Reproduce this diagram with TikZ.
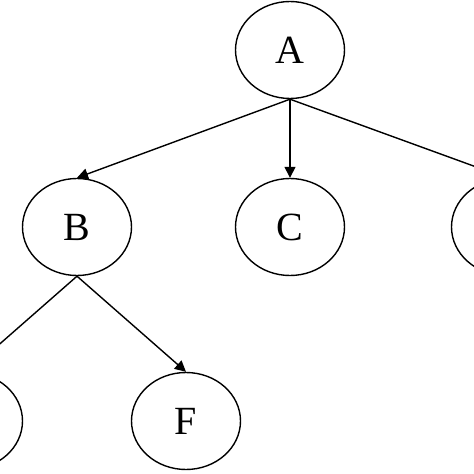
\documentclass[tikz,border=0pt]{standalone}
\usepackage{fontspec}
\setmainfont{Liberation Serif}
\usetikzlibrary{shapes.geometric,arrows.meta}
\tikzset{
    vertex/.style ={
        shape=ellipse,
        draw=black,
        line width=1.4pt,
        minimum width=109pt,
        minimum height=97pt,
        inner sep=0pt,
        font=\fontsize{40}{48}\selectfont
    },
    edge/.style ={
        line width=1.4pt,
        -{Triangle[length=11pt,width=11pt]}
    }
}
\begin{document}
\begin{tikzpicture}[x=1pt,y=-1pt]
        \useasboundingbox (0,0) rectangle (474,474);
        \clip (0,0) rectangle (474,474);
        \node[vertex] (A) at(290,50) {A};
        \node[vertex] (B) at(77,227) {B};
        \node[vertex] (C) at(290,227) {C};
        \node[vertex] (D) at(506,227) {};
        \node[vertex] (E) at(-32,421) {};
        \node[vertex] (F) at(186,421) {F};
        \draw[edge] (A.south) -- (B.north);
        \draw[edge] (A.south) -- (C.north);
        \draw[edge] (A.south) -- (D.north);
        \draw[edge] (B.south) -- (E.north);
        \draw[edge] (B.south) -- (F.north);
    \end{tikzpicture}
\end{document}
